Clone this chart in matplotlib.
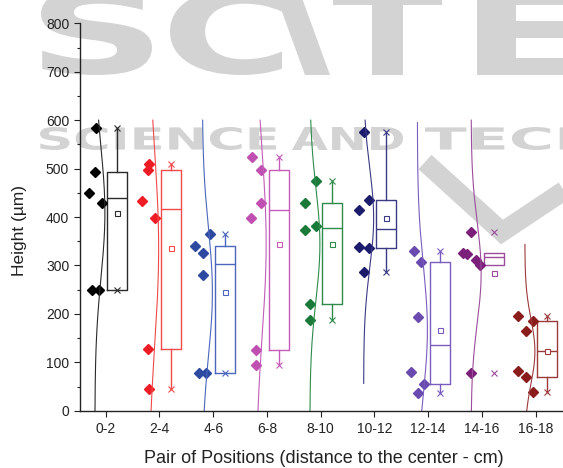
import numpy as np
import matplotlib
matplotlib.use('Agg')
import matplotlib.pyplot as plt
from matplotlib.textpath import TextPath
from matplotlib.patches import PathPatch
from matplotlib.font_manager import FontProperties
from matplotlib.transforms import Affine2D

# ---------------- data ----------------
categories = ['0-2', '2-4', '4-6', '6-8', '8-10', '10-12', '12-14', '14-16', '16-18']
h_0_2 = [584, 493, 450, 430, 249, 249]
h_2_4 = [510, 497, 433, 399, 128, 44]
h_4_6 = [366, 340, 325, 280, 78, 78]
h_6_8 = [524, 498, 429, 399, 126, 94]
h_8_10 = [474, 429, 382, 373, 220, 187]
h_10_12 = [576, 436, 414, 338, 336, 286]
h_12_14 = [330, 307, 193, 80, 55, 36]
h_14_16 = [369, 326, 323, 311, 302, 78]
h_16_18 = [195, 186, 164, 82, 70, 39]
heights = [h_0_2, h_2_4, h_4_6, h_6_8, h_8_10, h_10_12, h_12_14, h_14_16, h_16_18]

# horizontal jitter of the points (in pixels, left of the tick)
jitter_px = [
    [-10, -10.7, -16.4, -3.7, -14, -6.4],
    [-10.7, -11.7, -17.3, -4, -11.7, -10.7],
    [-3.7, -18, -10.4, -10.4, -14.4, -7],
    [-15.3, -5.6, -5.6, -15.6, -10.6, -10.6],
    [-5, -15.3, -5, -15.3, -10.3, -10.3],
    [-10.7, -5.3, -15.7, -15.7, -5.3, -10.7],
    [-13.7, -7, -10.4, -17, -3.7, -10.4],
    [-10.6, -19, -15, -5.6, -2.3, -10.6],
    [-17.4, -3, -10, -17.4, -10, -3],
]

point_colors = ['#000000', '#ee1c24', '#2e49a0', '#bf4fb0', '#1a7a3a',
                '#1c1c6c', '#6a4aae', '#7a1f7a', '#8a1c1c']
line_colors = ['#2a2a2a', '#f04a4a', '#4a66bd', '#c45cb8', '#2e8b4a',
               '#3a3a85', '#7a5cbf', '#9c4c9c', '#9c3a3a']

W, H = 563, 468
fig = plt.figure(figsize=(W / 100, H / 100), dpi=100)
plt.rcParams['font.family'] = ['Liberation Sans', 'DejaVu Sans']

# ---------------- watermark (background) ----------------
bg = fig.add_axes([0, 0, 1, 1], zorder=0)
bg.set_xlim(0, W)
bg.set_ylim(H, 0)
bg.axis('off')
wm = '#d3d3d3'
fp = FontProperties(family='DejaVu Sans', weight='bold')


def text_box(s, x0, x1, y0, y1, skew=0):
    tp = TextPath((0, 0), s, size=1, prop=fp)
    bb = tp.get_extents()
    tr = (Affine2D().translate(-bb.x0, -bb.y0)
          .scale((x1 - x0) / bb.width, -(y1 - y0) / bb.height)
          .skew_deg(skew, 0)
          .translate(x0, y1))
    bg.add_patch(PathPatch(tr.transform_path(tp), fc=wm, ec='none'))


text_box('S', 41, 152, -12, 75)
text_box('C', 170, 282, -12, 75)
text_box('I', 305, 330, -12, 75, skew=20)
text_box('T', 333, 442, -12, 75)
text_box('E', 477, 585, -12, 75)
text_box('SCIENCE', 40, 276, 127, 150)
text_box('AND', 292, 403, 127, 150)
text_box('TECH', 425, 600, 127, 150)
bg.plot([425, 502, 580], [162, 232, 180], color=wm, lw=14, solid_capstyle='butt',
        solid_joinstyle='miter')

# ---------------- main axes ----------------
ax = fig.add_axes([80 / W, 1 - 410.8 / H, 1 - 80 / W, (410.8 - 23.3) / H], zorder=1)
ax.set_facecolor('none')

px_unit = 53.75  # pixels per category
positions = np.arange(1, len(categories) + 1)
box_off = 11.6 / px_unit
box_w = 20 / px_unit

stats = []
for vals in heights:
    v = np.sort(np.array(vals, dtype=float))
    n = len(v)
    lower = v[: (n + 1) // 2]
    upper = v[n // 2:]
    q1, q3 = np.median(lower), np.median(upper)
    iqr = q3 - q1
    lo = v[v >= q1 - 1.5 * iqr].min()
    hi = v[v <= q3 + 1.5 * iqr].max()
    stats.append(dict(med=np.median(v), q1=q1, q3=q3, whislo=lo, whishi=hi,
                      mean=v.mean(), fliers=[]))

for i, (st, vals) in enumerate(zip(stats, heights)):
    pos = positions[i]
    lc = line_colors[i]
    pc = point_colors[i]
    ax.bxp([st], positions=[pos + box_off], widths=box_w, showcaps=False,
           showmeans=True, showfliers=False, patch_artist=False,
           boxprops=dict(color=lc, lw=1.0),
           whiskerprops=dict(color=lc, lw=1.0),
           medianprops=dict(color=lc, lw=1.0),
           meanprops=dict(marker='s', markersize=3.6, markerfacecolor='white',
                          markeredgecolor=lc, markeredgewidth=0.8))
    v = np.array(vals, dtype=float)
    ax.plot([pos + box_off] * 2, [v.min(), v.max()], linestyle='none', marker='x',
            ms=3.8, mew=0.8, color=lc)
    ax.plot(pos + np.array(jitter_px[i]) / px_unit, v, linestyle='none', marker='D',
            ms=4.6, color=pc, mec=pc)
    m, sd = v.mean(), v.std(ddof=1)
    yy = np.linspace(max(0, m - 3.3 * sd), min(600, m + 3.3 * sd), 200)
    xx = pos - 10.8 / px_unit + (10 / px_unit) * np.exp(-0.5 * ((yy - m) / sd) ** 2)
    ax.plot(xx, yy, color=lc, lw=0.8)

ax.set_xlim(1 - 25.7 / px_unit, 9 + 27.3 / px_unit)
ax.set_ylim(0, 800)
ax.set_xticks(positions)
ax.set_xticklabels(categories)
ax.set_yticks(np.arange(0, 801, 100))
ax.set_yticks(np.arange(50, 800, 100), minor=True)
for s in ['top', 'right']:
    ax.spines[s].set_visible(False)
for s in ['left', 'bottom']:
    ax.spines[s].set_linewidth(1.0)
    ax.spines[s].set_color('#222222')
ax.tick_params(axis='both', which='major', direction='out', length=4.3, width=0.8,
               color='#222222', labelsize=10, labelcolor='#222222', pad=3.5)
ax.tick_params(axis='y', which='minor', direction='out', length=2.5, width=0.8,
               color='#222222')
ax.tick_params(axis='x', which='minor', bottom=False)

fig.text(19.5 / W, 1 - 231 / H, 'Height (µm)', rotation=90, ha='center', va='center',
         fontsize=12.5, color='#222222')
fig.text(323.5 / W, 1 - 458.5 / H, 'Pair of Positions (distance to the center - cm)',
         ha='center', va='center', fontsize=13, color='#222222')

fig.savefig('out.png', dpi=100)
